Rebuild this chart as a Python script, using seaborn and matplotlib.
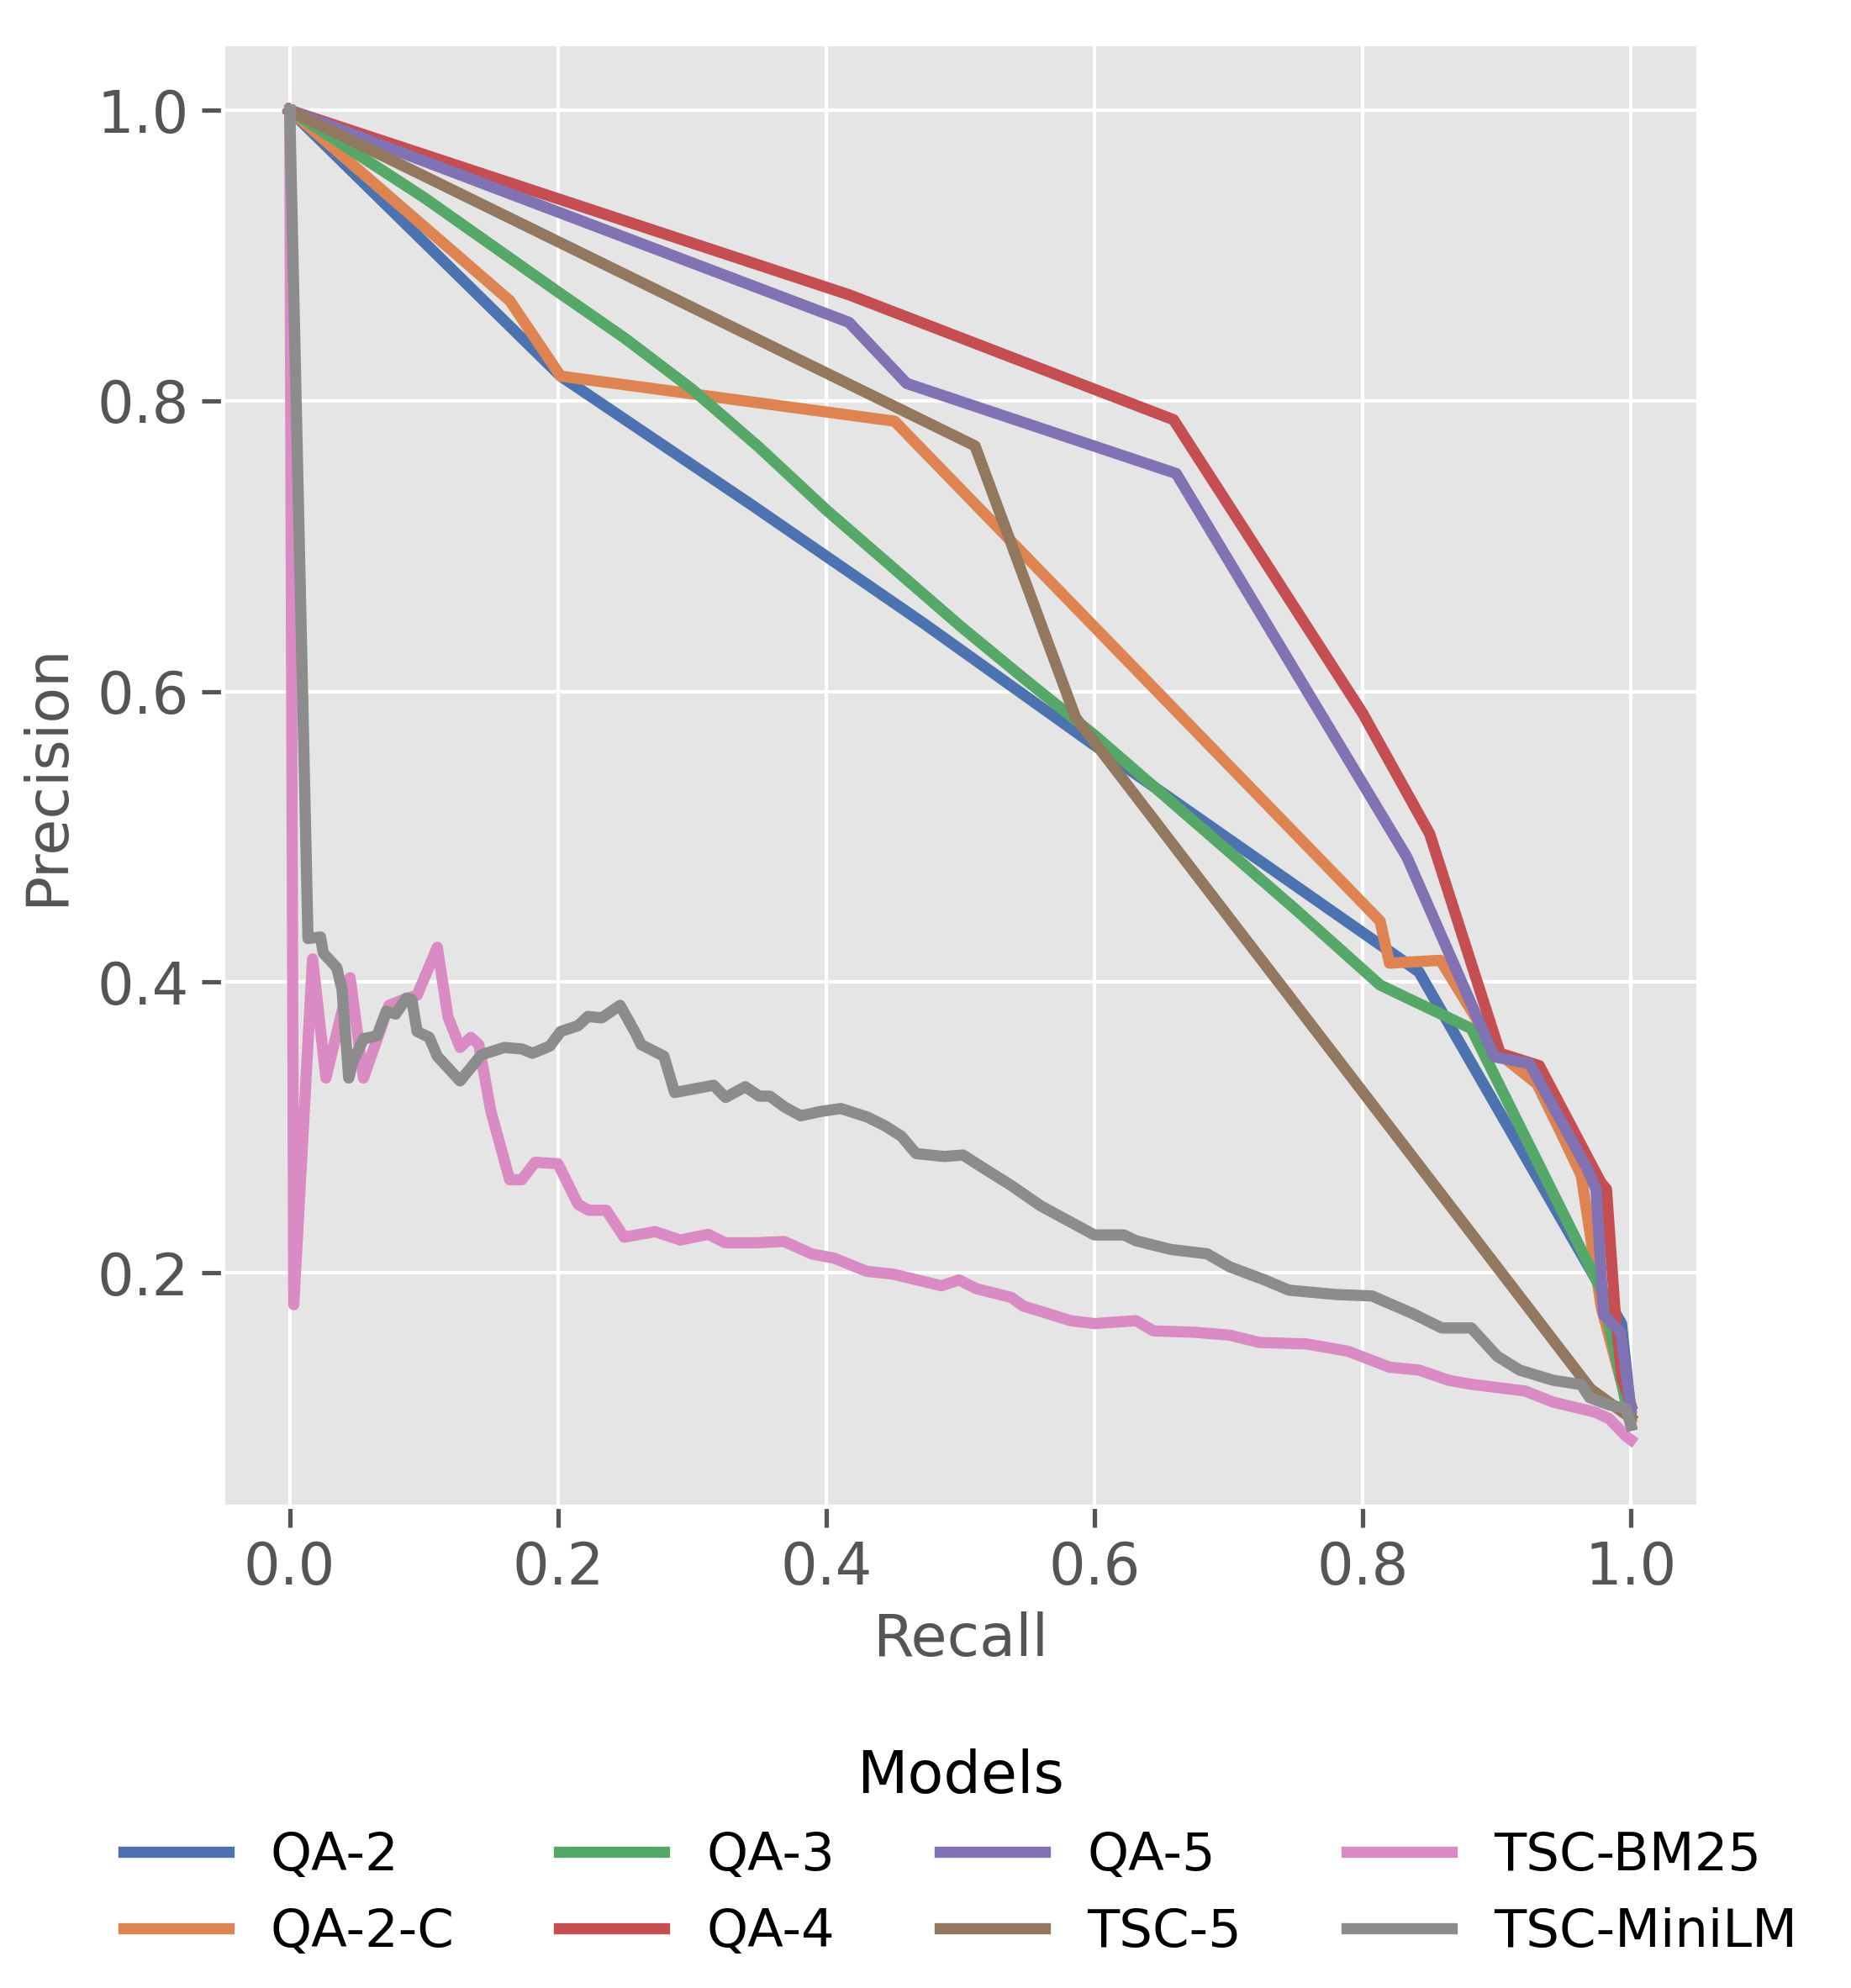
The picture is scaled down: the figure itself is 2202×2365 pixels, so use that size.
import matplotlib
matplotlib.use("Agg")
import matplotlib.pyplot as plt
import seaborn as sns
import pandas as pd

# ---- data ----
models = ["QA-2", "QA-2-C", "QA-3", "QA-4", "QA-5", "TSC-5", "TSC-BM25", "TSC-MiniLM"]

qa2_recall = [0.0, 0.202, 0.345, 0.4725, 0.6, 0.842, 0.88, 0.993, 1.0]
qa2_prec = [1.0, 0.817, 0.728, 0.647, 0.563, 0.407, 0.346, 0.165, 0.104]

qa2c_recall = [0.0, 0.164, 0.202, 0.451, 0.813, 0.820, 0.858, 0.900, 0.930, 0.948, 0.963, 0.978, 1.0]
qa2c_prec = [1.0, 0.869, 0.817, 0.786, 0.442, 0.413, 0.415, 0.352, 0.330, 0.296, 0.267, 0.176, 0.100]

qa3_recall = [0.0, 0.1, 0.2, 0.25, 0.3, 0.35, 0.4, 0.45, 0.5, 0.55, 0.6, 0.65, 0.7, 0.75,
              0.813, 0.881, 0.978, 1.0]
qa3_prec = [1.0, 0.94, 0.875, 0.843, 0.808, 0.768, 0.725, 0.685, 0.645, 0.607, 0.570, 0.530,
            0.490, 0.450, 0.398, 0.368, 0.188, 0.095]

qa4_recall = [0.0, 0.417, 0.659, 0.80, 0.85, 0.9025, 0.9317, 0.9777, 0.9818, 0.988, 0.9933, 1.0]
qa4_prec = [1.0, 0.873, 0.787, 0.585, 0.502, 0.351, 0.3425, 0.262, 0.2575, 0.176, 0.128, 0.109]

qa5_recall = [0.0, 0.417, 0.46, 0.661, 0.833, 0.8983, 0.9244, 0.9672, 0.974, 0.9797, 0.9923, 1.0]
qa5_prec = [1.0, 0.854, 0.812, 0.750, 0.486, 0.3485, 0.344, 0.272, 0.2575, 0.171, 0.159, 0.107]

tsc5_recall = [0.0, 0.511, 0.586, 0.97, 1.0]
tsc5_prec = [1.0, 0.769, 0.582, 0.12, 0.10]

bm25_recall = [0.0, 0.003, 0.017, 0.027, 0.045, 0.055, 0.074, 0.085, 0.095, 0.11, 0.118,
               0.127, 0.135, 0.141, 0.15, 0.164, 0.173, 0.183, 0.2, 0.215, 0.223, 0.236,
               0.2494, 0.2724, 0.2912, 0.3121, 0.3246, 0.3476, 0.3685, 0.3894, 0.406, 0.43,
               0.45, 0.4725, 0.486, 0.499, 0.512, 0.538, 0.547, 0.565, 0.582, 0.6, 0.631,
               0.644, 0.675, 0.701, 0.723, 0.758, 0.789, 0.82, 0.842, 0.864, 0.8796, 0.921,
               0.942, 0.9735, 0.984, 0.9965, 1.0]
bm25_prec = [1.0, 0.178, 0.416, 0.334, 0.403, 0.334, 0.384, 0.388, 0.391, 0.424, 0.376,
             0.355, 0.362, 0.357, 0.311, 0.264, 0.264, 0.276, 0.275, 0.247, 0.243, 0.243,
             0.2244, 0.2283, 0.2225, 0.2264, 0.2206, 0.2206, 0.2215, 0.2129, 0.210, 0.201,
             0.199, 0.194, 0.191, 0.195, 0.189, 0.183, 0.177, 0.172, 0.167, 0.165, 0.167,
             0.160, 0.159, 0.157, 0.152, 0.151, 0.146, 0.135, 0.133, 0.126, 0.1234, 0.1186,
             0.111, 0.104, 0.0994, 0.0874, 0.085]

minilm_recall = [0.0, 0.0136, 0.023, 0.025, 0.035, 0.039, 0.044, 0.047, 0.055, 0.065, 0.072,
                 0.079, 0.087, 0.091, 0.095, 0.104, 0.11, 0.127, 0.135, 0.143, 0.16, 0.173,
                 0.181, 0.194, 0.202, 0.215, 0.2223, 0.2327, 0.2463, 0.2578, 0.262, 0.279,
                 0.287, 0.316, 0.325, 0.3397, 0.35, 0.358, 0.369, 0.381, 0.396, 0.411, 0.431,
                 0.444, 0.456, 0.467, 0.488, 0.502, 0.519, 0.538, 0.56, 0.6, 0.622, 0.631,
                 0.657, 0.684, 0.701, 0.727, 0.745, 0.78, 0.807, 0.837, 0.859, 0.881, 0.9004,
                 0.917, 0.942, 0.963, 0.9693, 0.984, 0.9965, 1.0]
minilm_prec = [1.0, 0.43, 0.431, 0.42, 0.41, 0.395, 0.334, 0.345, 0.361, 0.363, 0.38,
               0.378, 0.389, 0.388, 0.366, 0.362, 0.349, 0.332, 0.341, 0.35, 0.355, 0.354,
               0.351, 0.356, 0.366, 0.37, 0.3763, 0.3754, 0.384, 0.365, 0.357, 0.349,
               0.324, 0.329, 0.3206, 0.328, 0.3215, 0.3215, 0.314, 0.308, 0.311, 0.313, 0.307,
               0.301, 0.294, 0.282, 0.280, 0.281, 0.271, 0.26, 0.246, 0.226, 0.226, 0.222,
               0.216, 0.213, 0.204, 0.195, 0.188, 0.185, 0.184, 0.172, 0.162, 0.162, 0.1425,
               0.133, 0.126, 0.123, 0.114, 0.109, 0.1066, 0.095]

series = {
    "QA-2": (qa2_recall, qa2_prec),
    "QA-2-C": (qa2c_recall, qa2c_prec),
    "QA-3": (qa3_recall, qa3_prec),
    "QA-4": (qa4_recall, qa4_prec),
    "QA-5": (qa5_recall, qa5_prec),
    "TSC-5": (tsc5_recall, tsc5_prec),
    "TSC-BM25": (bm25_recall, bm25_prec),
    "TSC-MiniLM": (minilm_recall, minilm_prec),
}

rows = []
for name in models:
    r, p = series[name]
    for a, b in zip(r, p):
        rows.append({"Recall": a, "Precision": b, "Models": name})
df = pd.DataFrame(rows)

# ---- style ----
plt.style.use("ggplot")
sns.set_context("notebook", font_scale=1.5)
plt.rcParams["font.family"] = ["DejaVu Sans"]
plt.rcParams["axes.labelsize"] = 16.8
plt.rcParams["legend.fontsize"] = 15
plt.rcParams["legend.title_fontsize"] = 16.8

fig = plt.figure(figsize=(2202 / 300, 2365 / 300), dpi=300)
ax = fig.add_axes([0.1203, 0.2423, 0.797, 0.7357])

sns.lineplot(data=df, x="Recall", y="Precision", hue="Models", hue_order=models,
             palette="deep", linewidth=3.2, ax=ax, sort=False, estimator=None)

ax.set_xticks([0.0, 0.2, 0.4, 0.6, 0.8, 1.0])
ax.set_yticks([0.2, 0.4, 0.6, 0.8, 1.0])
ax.set_xlabel("Recall", labelpad=4.5)
ax.set_ylabel("Precision", labelpad=6.5)

sns.move_legend(ax, "upper center", bbox_to_anchor=(0.5, -0.133), ncol=4,
                title="Models", frameon=False)

fig.savefig("out.png", dpi=300)
